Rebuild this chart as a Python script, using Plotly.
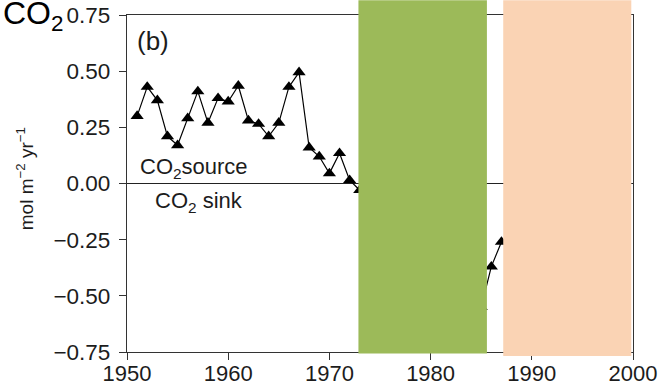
import plotly.graph_objects as go

# ---- data ----
years = list(range(1951, 1999))
flux = [0.30, 0.43, 0.37, 0.21, 0.17, 0.29, 0.41, 0.27, 0.38, 0.365,
        0.435, 0.28, 0.265, 0.21, 0.27, 0.43, 0.495, 0.16, 0.12, 0.045,
        0.135, 0.015, -0.03,
        -0.08, -0.12, -0.10, -0.18, -0.22, -0.20, -0.28, -0.31, -0.27, -0.35, -0.40, -0.55,
        -0.37, -0.26,
        -0.30, -0.22, -0.35, -0.28, -0.40, -0.33, -0.25, -0.38, -0.30, -0.42, -0.35]
x_ticks = [1950, 1960, 1970, 1980, 1990, 2000]
y_ticks = [-0.75, -0.50, -0.25, 0.00, 0.25, 0.50, 0.75]

FONT = "Liberation Sans, Arial, sans-serif"
TXT = "#1c1c1c"

W, H = 660, 387
L, R, T, B = 127, 27.3, 14.7, 35.3
PW, PH = W - L - R, H - T - B

def xp(px):
    return (px - L) / PW

def yp(py):
    return (H - B - py) / PH

fig = go.Figure()
fig.add_trace(go.Scatter(
    x=years, y=flux, mode="lines+markers",
    line=dict(color="black", width=1.2),
    marker=dict(symbol="triangle-up", size=11.5, color="black"),
    showlegend=False, cliponaxis=False,
))

fig.update_layout(
    width=W, height=H,
    margin=dict(l=L, r=R, t=T, b=B, pad=0, autoexpand=False),
    paper_bgcolor="white", plot_bgcolor="white",
    font=dict(family=FONT, color=TXT, size=22),
    xaxis=dict(range=[1950, 2000], tickvals=x_ticks, ticks="outside", ticklen=7,
               tickwidth=1.2, tickcolor="#333", showline=True, linecolor="#333",
               linewidth=1.3, mirror=True, showgrid=False, zeroline=False,
               automargin=False, tickfont=dict(size=22, color=TXT),
               ticklabelstandoff=-6),
    yaxis=dict(range=[-0.75, 0.75], tickvals=y_ticks, tickformat=".2f",
               ticks="outside", ticklen=7, tickwidth=1.2, tickcolor="#333",
               showline=True, linecolor="#333", linewidth=1.3, mirror=True,
               showgrid=False, zeroline=True, zerolinecolor="#222", zerolinewidth=1.3,
               automargin=False, tickfont=dict(size=22.5, color=TXT),
               ticklabelstandoff=4),
)

ann = [
    dict(text="CO<sub>2</sub>", x=xp(64), y=yp(15), xanchor="right", yanchor="middle",
         font=dict(size=32, color="black")),
    dict(text="mol m<sup>−2</sup> yr<sup>−1</sup>", x=xp(25), y=yp(178), textangle=-90,
         xanchor="center", yanchor="middle", font=dict(size=19, color=TXT)),
    dict(text="(b)", x=xp(136), y=yp(41), xanchor="left", yanchor="middle",
         font=dict(size=26, color=TXT)),
    dict(text="CO<sub>2</sub>source", x=xp(139), y=yp(168), xanchor="left", yanchor="middle",
         font=dict(size=22, color=TXT)),
    dict(text="CO<sub>2</sub> sink", x=xp(154), y=yp(202), xanchor="left", yanchor="middle",
         font=dict(size=22, color=TXT)),
]
for a in ann:
    a.update(xref="paper", yref="paper", showarrow=False, borderpad=0)
fig.update_layout(annotations=ann)

# occluding blocks
fig.add_shape(type="rect", xref="paper", yref="paper", x0=xp(358.3), x1=xp(486.7),
              y0=yp(353.3), y1=yp(0), fillcolor="#9cba59", line_width=0, layer="above")
fig.add_shape(type="rect", xref="paper", yref="paper", x0=xp(503), x1=xp(631),
              y0=yp(355.7), y1=yp(0), fillcolor="#fad3b4", line_width=0, layer="above")

fig.write_html("out.html", config={"displayModeBar": False},
               post_script="document.body.style.margin='0';document.body.style.overflow='hidden';")
